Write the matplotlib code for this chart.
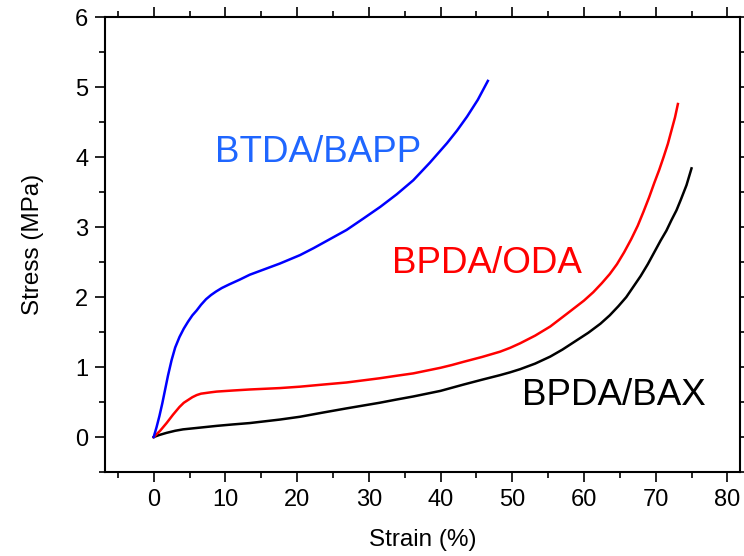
import matplotlib
matplotlib.use('Agg')
from matplotlib import pyplot as plt
from matplotlib.ticker import MultipleLocator

plt.rcParams['font.family'] = ['Liberation Sans', 'DejaVu Sans']

# BTDA/BAPP
btda_strain = [0, 0.4, 0.8, 1.2, 1.5, 2.0, 2.5, 3.0, 3.6, 4.2, 4.8, 5.4, 6.0, 6.6, 7.3, 8.0,
               8.7, 9.5, 10.5, 12.0, 13.4, 15.5, 17.6, 20.4, 22.3, 24.6, 26.9, 29.2, 31.6,
               33.9, 36.2, 38.5, 40.9, 42.3, 43.7, 45.2, 46.6]
btda_stress = [0, 0.14, 0.3, 0.48, 0.63, 0.88, 1.1, 1.28, 1.43, 1.55, 1.65, 1.74, 1.81, 1.89,
               1.97, 2.03, 2.08, 2.13, 2.18, 2.25, 2.32, 2.40, 2.48, 2.6, 2.70, 2.83, 2.96,
               3.12, 3.29, 3.47, 3.67, 3.92, 4.20, 4.38, 4.58, 4.82, 5.09]

# BPDA/ODA
oda_strain = [0, 0.9, 1.8, 2.7, 3.6, 4.2, 4.8, 5.4, 6.0, 6.6, 7.3, 8.0, 8.8, 11.0, 13.4,
              17.6, 20.4, 23.6, 26.9, 29.2, 31.5, 33.8, 36.2, 38.1, 40.0, 41.6, 43.2, 45.8,
              48.3, 49.7, 51.1, 53.2, 55.3, 57.6, 60.0, 61.3, 62.5, 63.6, 64.6, 65.6, 66.6,
              67.5, 68.3, 69.1, 69.8, 70.5, 71.1, 71.7, 72.2, 72.7, 73.1]
oda_stress = [0, 0.09, 0.2, 0.32, 0.43, 0.49, 0.53, 0.57, 0.6, 0.62, 0.63, 0.64, 0.65, 0.665,
              0.68, 0.7, 0.72, 0.75, 0.78, 0.81, 0.84, 0.875, 0.91, 0.95, 0.99, 1.03, 1.075,
              1.145, 1.22, 1.275, 1.34, 1.45, 1.58, 1.76, 1.95, 2.07, 2.2, 2.33, 2.47, 2.64,
              2.83, 3.02, 3.22, 3.43, 3.63, 3.82, 4.0, 4.19, 4.38, 4.57, 4.76]

# BPDA/BAX
bax_strain = [0, 0.8, 1.8, 3.0, 4.1, 6.0, 8.8, 11.0, 13.4, 15.5, 17.6, 20.4, 23.6, 26.9,
              29.2, 31.5, 33.8, 36.2, 38.1, 40.0, 41.6, 43.2, 45.8, 48.3, 49.7, 51.1, 53.2,
              55.3, 57.0, 58.8, 60.6, 62.3, 63.6, 64.8, 65.9, 66.9, 67.9, 68.9, 69.8, 70.7,
              71.5, 72.2, 72.9, 73.5, 74.3, 75.0]
bax_stress = [0, 0.03, 0.06, 0.09, 0.11, 0.13, 0.16, 0.18, 0.2, 0.225, 0.25, 0.29, 0.35,
              0.41, 0.45, 0.49, 0.535, 0.58, 0.62, 0.66, 0.705, 0.75, 0.82, 0.885, 0.925, 0.97,
              1.05, 1.15, 1.25, 1.37, 1.49, 1.62, 1.74, 1.87, 2.0, 2.15, 2.3, 2.47, 2.64,
              2.81, 2.95, 3.1, 3.24, 3.39, 3.6, 3.84]


fig = plt.figure(figsize=(7.44, 5.56), dpi=100)
ax = fig.add_axes([0.141, 0.151, 0.854, 0.818])

ax.plot(bax_strain, bax_stress, color='black', lw=1.8)
ax.plot(oda_strain, oda_stress, color='#ff0000', lw=1.8)
ax.plot(btda_strain, btda_stress, color='#0000ff', lw=1.8)

ax.text(8.5, 3.93, 'BTDA/BAPP', color='#1f66ff', fontsize=26.5)
ax.text(33.2, 2.34, 'BPDA/ODA', color='#ff0000', fontsize=26.5)
ax.text(51.3, 0.46, 'BPDA/BAX', color='black', fontsize=26.5)

ax.set_xlim(-6.8, 81.8)
ax.set_ylim(-0.5, 6)
ax.xaxis.set_major_locator(MultipleLocator(10))
ax.xaxis.set_minor_locator(MultipleLocator(5))
ax.yaxis.set_major_locator(MultipleLocator(1))
ax.yaxis.set_minor_locator(MultipleLocator(0.5))

ax.set_xlabel('Strain (%)', fontsize=17.5, labelpad=13)
ax.set_ylabel('Stress (MPa)', fontsize=17.5, labelpad=22)

ax.tick_params(axis='both', which='major', direction='out', length=7, width=1.2,
               labelsize=17, pad=5)
ax.tick_params(axis='both', which='minor', direction='out', length=4, width=1.2)
ax.tick_params(axis='x', which='both', top=True)
ax.tick_params(axis='y', which='both', right=True)
for sp in ax.spines.values():
    sp.set_linewidth(1.5)

fig.savefig('out.png', dpi=100)
